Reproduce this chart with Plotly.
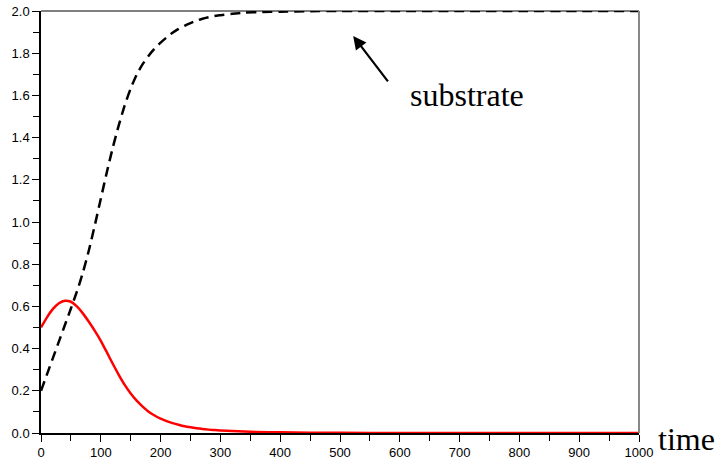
import plotly.graph_objects as go

# time points and values
t_sub = [0, 10, 20, 30, 40, 50, 60, 70, 80, 90, 100, 110, 120, 130, 140, 150, 160, 170, 180,
         190, 200, 210, 220, 230, 240, 250, 260, 270, 280, 290, 300, 320, 340, 370, 400, 450,
         500, 600, 700, 800, 900, 1000]
substrate = [0.20, 0.278, 0.356, 0.434, 0.512, 0.59, 0.67, 0.76, 0.865, 0.985, 1.11, 1.235,
             1.352, 1.458, 1.553, 1.633, 1.698, 1.748, 1.788, 1.822, 1.85, 1.875, 1.897, 1.915,
             1.93, 1.943, 1.954, 1.963, 1.97, 1.976, 1.98, 1.987, 1.992, 1.995, 1.997, 1.999,
             2.0, 2.0, 2.0, 2.0, 2.0, 2.0]

t_red = [0, 10, 20, 30, 40, 50, 60, 70, 80, 90, 100, 110, 120, 130, 140, 150, 160, 170, 180,
         190, 200, 210, 220, 230, 240, 250, 260, 270, 280, 290, 300, 320, 340, 360, 400, 450,
         500, 600, 700, 800, 900, 1000]
red_vals = [0.50, 0.548, 0.588, 0.615, 0.627, 0.622, 0.600, 0.567, 0.527, 0.484, 0.437, 0.383,
            0.328, 0.276, 0.228, 0.187, 0.153, 0.125, 0.101, 0.083, 0.068, 0.056, 0.047, 0.039,
            0.032, 0.027, 0.023, 0.019, 0.016, 0.014, 0.012, 0.009, 0.007, 0.005, 0.003, 0.0015,
            0.001, 0.0, 0.0, 0.0, 0.0, 0.0]

x_ticks = list(range(0, 1001, 100))
y_ticks = [0.0, 0.2, 0.4, 0.6, 0.8, 1.0, 1.2, 1.4, 1.6, 1.8, 2.0]

fig = go.Figure()
fig.add_trace(go.Scatter(x=t_sub, y=substrate, mode="lines",
                         line=dict(color="black", width=2.5, dash="10px,6px", shape="spline", smoothing=0.6),
                         showlegend=False, hoverinfo="skip"))
fig.add_trace(go.Scatter(x=t_red, y=red_vals, mode="lines",
                         line=dict(color="#ff0000", width=2.5, shape="spline", smoothing=0.6),
                         showlegend=False, hoverinfo="skip", cliponaxis=False))

axis_font = dict(family="Liberation Sans, Arial, sans-serif", size=13, color="black")
fig.update_xaxes(range=[0, 1000], tickvals=x_ticks, ticktext=[str(v) for v in x_ticks],
                 ticks="outside", ticklen=7, tickwidth=1, tickcolor="black",
                 minor=dict(dtick=50, ticks="outside", ticklen=6, tickcolor="black", showgrid=False),
                 showline=True, linecolor="black", linewidth=1.5, showgrid=False, zeroline=False,
                 tickfont=axis_font, fixedrange=True, automargin=False, ticklabeloverflow="allow")
fig.update_yaxes(range=[0, 2.0], tickvals=y_ticks, ticktext=[f"{v:.1f}" for v in y_ticks],
                 ticks="outside", ticklen=7, tickwidth=1, tickcolor="black",
                 minor=dict(dtick=0.1, ticks="outside", ticklen=6, tickcolor="black", showgrid=False),
                 showline=True, linecolor="black", linewidth=1.5, showgrid=False, zeroline=False,
                 tickfont=axis_font, fixedrange=True, automargin=False, ticklabeloverflow="allow")

# top and right frame lines
fig.add_shape(type="line", xref="paper", yref="paper", x0=0, x1=1, y0=1, y1=1,
              line=dict(color="black", width=1))
fig.add_shape(type="line", xref="paper", yref="paper", x0=1, x1=1, y0=0, y1=1,
              line=dict(color="#888888", width=2))

serif = dict(family="Liberation Serif, Times New Roman, serif", size=32, color="black")
fig.add_annotation(x=1.0, y=0, xref="paper", yref="paper", text="time", showarrow=False,
                   xanchor="left", yanchor="middle", xshift=17, yshift=-6, font=serif)
fig.add_annotation(x=522, y=1.882, ax=582, ay=1.659, axref="x", ayref="y",
                   xref="x", yref="y", text="", showarrow=True, arrowhead=2, arrowsize=1.2,
                   arrowwidth=2.2, arrowcolor="black")
fig.add_annotation(x=713, y=1.60, xref="x", yref="y", text="substrate", showarrow=False,
                   xanchor="center", yanchor="middle", font=serif)

fig.update_layout(width=719, height=464, margin=dict(l=41, r=80, t=11, b=31, autoexpand=False),
                  plot_bgcolor="white", paper_bgcolor="white")

# remove the default page margin so the figure sits at the window's top-left corner
fig.write_html("out.html", config={"displayModeBar": False},
               post_script="document.body.style.margin='0';document.body.style.overflow='hidden';")
